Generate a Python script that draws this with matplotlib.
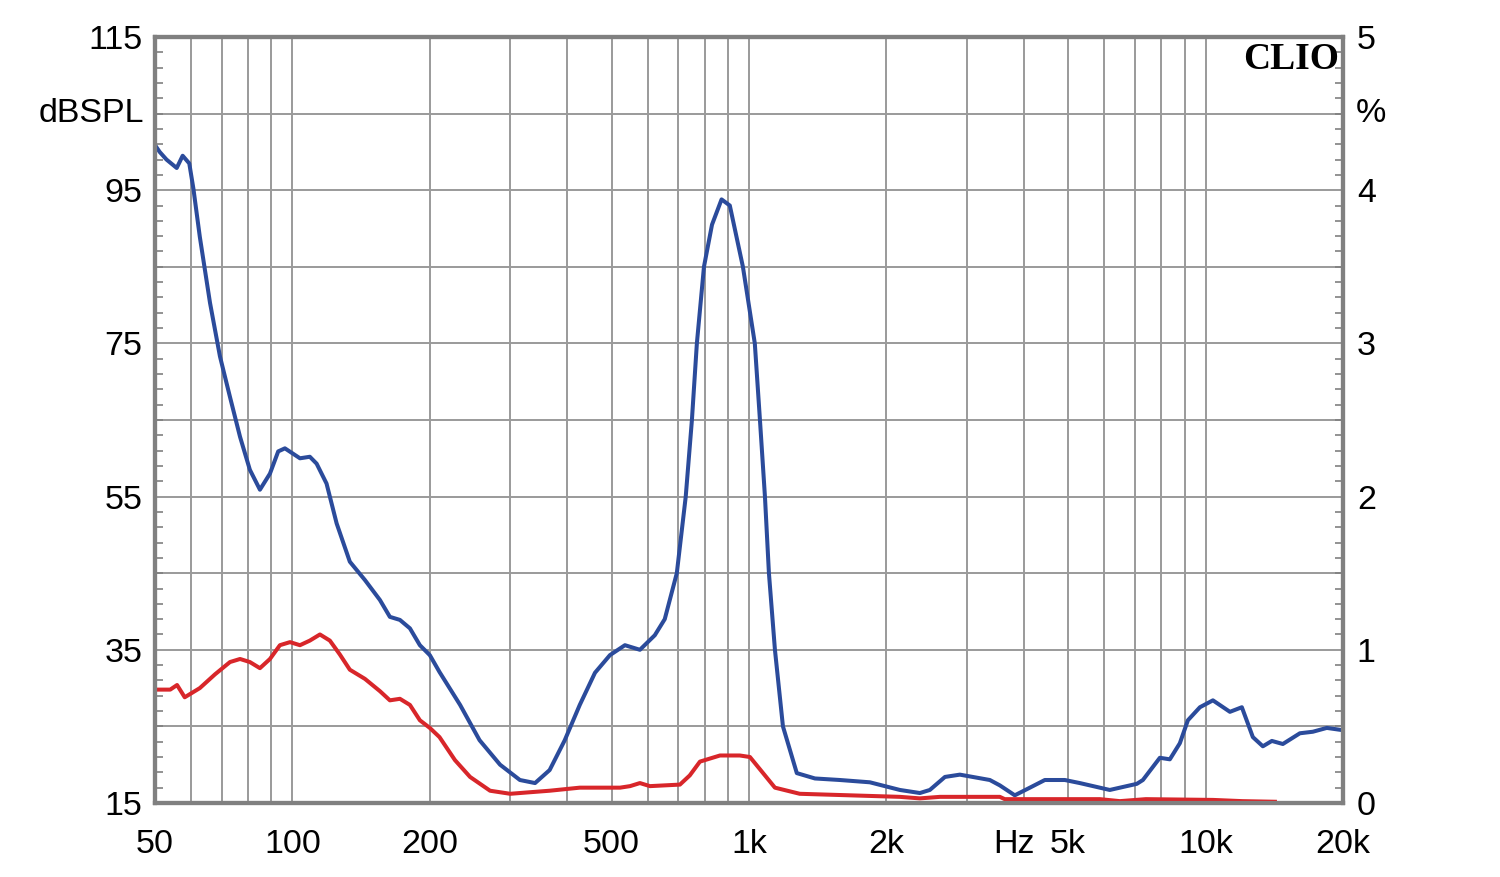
import matplotlib
matplotlib.use("Agg")
import matplotlib.pyplot as plt
from matplotlib.ticker import FixedLocator, NullFormatter, NullLocator

# ---- data ----
spl_freq = [50, 51.2, 53.0, 55.8, 57.5, 59.45, 60.7, 62.7, 66, 69.4, 73, 76.8, 80.7, 84.9,
            89.3, 93.1, 96.3, 103.9, 109.2, 113.0, 118.8, 125, 133.6, 144.2, 155.5,
            163.5, 172, 180.9, 190.2, 200, 210, 233, 257, 285, 315, 340, 366, 395,
            426, 460, 496, 535, 577, 622, 654, 695, 727, 750, 769, 797, 830, 871, 908,
            970, 1030, 1057, 1084, 1106, 1140, 1187, 1273, 1395, 1582, 1840, 2141, 2368,
            2490, 2687, 2897, 3370, 3544, 3822, 4124, 4447, 4919, 5305, 6170, 7073,
            7292, 7943, 8354, 8786, 9150, 9722, 10380, 11310, 12011, 12697, 13354,
            13975, 14770, 16095, 17181, 18435, 20000]
spl_db = [100.9, 100.0, 99.0, 97.9, 99.5, 98.5, 95.2, 88.9, 80.3, 73.3, 68.0, 62.8, 58.5, 55.9,
          58.0, 60.9, 61.3, 60.0, 60.2, 59.3, 56.7, 51.5, 46.5, 44.1, 41.5,
          39.3, 38.9, 37.8, 35.6, 34.3, 32.1, 27.8, 23.2, 20.0, 18.0, 17.6, 19.3, 23.2,
          27.8, 32.0, 34.3, 35.6, 35.0, 36.9, 39.0, 45.0, 55.0, 65.0, 75.0, 85.0, 90.5, 93.8, 93.0,
          85.0, 75.0, 65.0, 55.0, 45.0, 35.0, 25.0, 18.9, 18.2, 18.0, 17.7, 16.7, 16.3,
          16.7, 18.4, 18.7, 18.0, 17.3, 16.0, 17.0, 18.0, 18.0, 17.6, 16.7, 17.5,
          18.0, 20.9, 20.7, 22.8, 25.8, 27.5, 28.4, 26.9, 27.5, 23.6, 22.4,
          23.1, 22.7, 24.1, 24.3, 24.8, 24.5]

thd_freq = [50, 54, 55.9, 58.1, 62.7, 67.7, 73, 76.8, 80.7, 84.9, 89.3, 93.9, 98.8,
            103.9, 109.2, 114.9, 120.8, 127, 133.6, 144.2, 155.5, 163.5, 172, 180.9,
            190.2, 200, 210, 227, 245, 271, 300, 331, 366, 426, 522, 549, 577, 607,
            706, 742, 781, 864, 955, 1005, 1057, 1140, 1292, 1664, 2141, 2368, 2620,
            3544, 3633, 5870, 6492, 7400, 10380, 12050, 14190]
thd_pct = [0.74, 0.74, 0.77, 0.69, 0.75, 0.84, 0.92, 0.94, 0.92, 0.88, 0.94, 1.03, 1.05,
           1.03, 1.06, 1.10, 1.06, 0.97, 0.87, 0.81, 0.73, 0.67, 0.68, 0.64,
           0.54, 0.49, 0.43, 0.28, 0.17, 0.08, 0.06, 0.07, 0.08, 0.10, 0.10, 0.11, 0.13, 0.11,
           0.12, 0.18, 0.27, 0.31, 0.31, 0.30, 0.22, 0.10, 0.06, 0.05, 0.04, 0.03, 0.04,
           0.04, 0.025, 0.025, 0.012, 0.025, 0.02, 0.012, 0.008]

x_ticks = [50, 100, 200, 500, 1000, 2000, 5000, 10000, 20000]
x_labels = ["50", "100", "200", "500", "1k", "2k", "5k", "10k", "20k"]
x_grid = [60, 70, 80, 90, 100, 200, 300, 400, 500, 600, 700, 800, 900, 1000,
          2000, 3000, 4000, 5000, 6000, 7000, 8000, 9000, 10000]
left_ticks = [15, 35, 55, 75, 95, 115]
right_ticks = [0, 1, 2, 3, 4, 5]

# ---- style ----
plt.rcParams['font.family'] = ['Liberation Sans', 'DejaVu Sans']
SPINE = '#808080'
GRID = '#9a9a9a'
BLUE = '#2b4b9b'
RED = '#d8262a'
FS = 24.5

fig = plt.figure(figsize=(15, 8.77), dpi=100)
ax = fig.add_axes([0.1033, 0.0844, 0.792, 0.8734])
ax2 = ax.twinx()

ax.set_xscale('log')
ax.set_xlim(50, 20000)
ax.set_ylim(15, 115)
ax2.set_ylim(0, 5)

# grid
for g in x_grid:
    ax.axvline(g, color=GRID, lw=1.4, zorder=1)
for yv in range(25, 115, 10):
    ax.axhline(yv, color=GRID, lw=1.4, zorder=1)

ax.plot(spl_freq, spl_db, color=BLUE, lw=2.9, zorder=3, solid_joinstyle='round')
ax2.plot(thd_freq, thd_pct, color=RED, lw=2.9, zorder=3, solid_joinstyle='round')

# x ticks
ax.xaxis.set_major_locator(FixedLocator(x_ticks))
ax.set_xticklabels(x_labels)
ax.xaxis.set_minor_locator(NullLocator())
ax.xaxis.set_minor_formatter(NullFormatter())
ax.tick_params(axis='x', which='major', length=0, labelsize=FS, pad=19)

# left y
ax.set_yticks(left_ticks)
ax.set_yticklabels([str(v) for v in left_ticks])
ax.yaxis.set_minor_locator(FixedLocator(list(range(17, 115, 2))))
ax.tick_params(axis='y', which='major', length=0, labelsize=FS, pad=9)
ax.tick_params(axis='y', which='minor', direction='in', length=6, width=1.2, color=SPINE)

# right y
ax2.set_yticks(right_ticks)
ax2.set_yticklabels([str(v) for v in right_ticks])
ax2.yaxis.set_minor_locator(FixedLocator([i * 0.1 for i in range(1, 50)]))
ax2.tick_params(axis='y', which='major', length=0, labelsize=FS, pad=10)
ax2.tick_params(axis='y', which='minor', direction='in', length=6, width=1.2, color=SPINE)

for a in (ax, ax2):
    for s in a.spines.values():
        s.set_color(SPINE)
        s.set_linewidth(3)
        s.set_zorder(4)

# extra labels
ax.text(-0.0095, 0.9, "dBSPL", transform=ax.transAxes, ha='right', va='center', fontsize=FS)
ax2.text(1.011, 0.9, "%", transform=ax2.transAxes, ha='left', va='center', fontsize=FS)
ax.annotate("Hz", xy=(3800, 0), xycoords=('data', 'axes fraction'),
            xytext=(0, -19), textcoords='offset points', ha='center', va='top',
            fontsize=FS)
ax2.text(0.997, 0.994, "CLIO", transform=ax2.transAxes, ha='right', va='top',
         fontsize=27, fontweight='bold', family='Liberation Serif')

fig.savefig("out.png", dpi=100)
